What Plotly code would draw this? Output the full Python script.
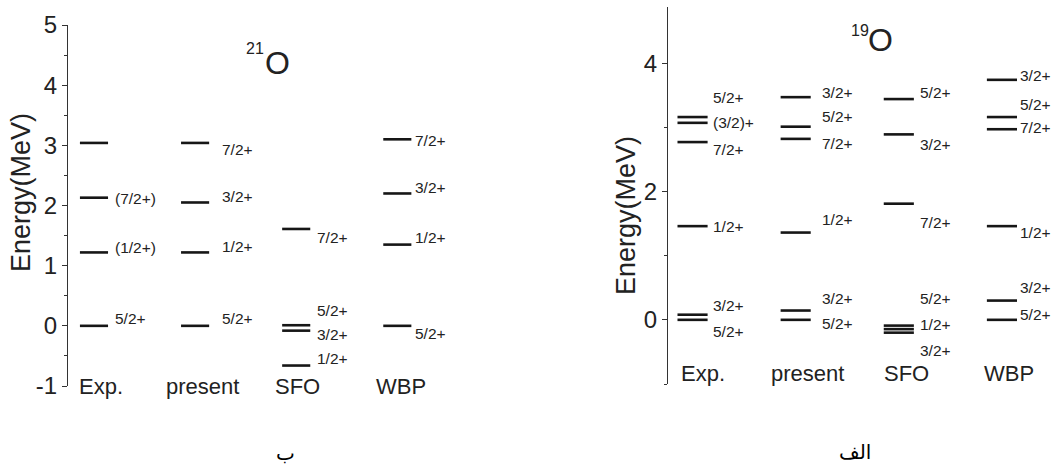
import plotly.graph_objects as go

# ---------------- data ----------------
methods = ["Exp.", "present", "SFO", "WBP"]

# 21O (left panel)
o21_exp = [0.0, 1.22, 2.13, 3.04]
o21_exp_lab = ["5/2+", "(1/2+)", "(7/2+)", ""]
o21_present = [0.0, 1.22, 2.05, 3.04]
o21_present_lab = ["5/2+", "1/2+", "3/2+", "7/2+"]
o21_sfo = [-0.66, -0.08, 0.01, 1.61]
o21_sfo_lab = ["1/2+", "3/2+", "5/2+", "7/2+"]
o21_wbp = [0.0, 1.35, 2.20, 3.10]
o21_wbp_lab = ["5/2+", "1/2+", "3/2+", "7/2+"]

# 19O (right panel)
o19_exp = [0.0, 0.08, 1.46, 2.77, 3.07, 3.16]
o19_exp_lab = ["5/2+", "3/2+", "1/2+", "7/2+", "(3/2)+", "5/2+"]
o19_present = [0.0, 0.145, 1.36, 2.82, 3.01, 3.47]
o19_present_lab = ["5/2+", "3/2+", "1/2+", "7/2+", "5/2+", "3/2+"]
o19_sfo = [-0.20, -0.145, -0.09, 1.81, 2.89, 3.44]
o19_sfo_lab = ["3/2+", "1/2+", "5/2+", "7/2+", "3/2+", "5/2+"]
o19_wbp = [0.0, 0.30, 1.46, 2.97, 3.16, 3.74]
o19_wbp_lab = ["5/2+", "3/2+", "1/2+", "7/2+", "5/2+", "3/2+"]

# label text positions (energy units)
o21_exp_laby = [0.12, 1.30, 2.12, None]
o21_present_laby = [0.12, 1.32, 2.15, 2.93]
o21_sfo_laby = [-0.55, -0.15, 0.25, 1.47]
o21_wbp_laby = [-0.13, 1.47, 2.30, 3.08]

o19_exp_laby = [-0.18, 0.23, 1.45, 2.65, 3.08, 3.46]
o19_present_laby = [-0.06, 0.34, 1.56, 2.75, 3.17, 3.54]
o19_sfo_laby = [-0.48, -0.08, 0.33, 1.52, 2.73, 3.54]
o19_wbp_laby = [0.08, 0.50, 1.36, 2.99, 3.35, 3.80]

# tick labels
left_tickvals = [-1, 0, 1, 2, 3, 4, 5]
left_ticktext = ["-1", "0", "1", "2", "3", "4", "5"]
right_tickvals = [0, 2, 4]
right_ticktext = ["0", "2", "4"]

# ---------------- styling ----------------
W, H = 1053, 474
LINE_COLOR = "#161616"
TEXT_COLOR = "#222222"
REG = "Liberation Sans, Arial, sans-serif"

panels = [
    dict(xa="x", ya="y",
         levels=[o21_exp, o21_present, o21_sfo, o21_wbp],
         labels=[o21_exp_lab, o21_present_lab, o21_sfo_lab, o21_wbp_lab],
         laby=[o21_exp_laby, o21_present_laby, o21_sfo_laby, o21_wbp_laby],
         half=0.139, labdx=[0.19, 0.25, 0.19, 0.16],
         catx=[0.07, 1.07, 2.01, 3.04], caty=-1.0),
    dict(xa="x2", ya="y2",
         levels=[o19_exp, o19_present, o19_sfo, o19_wbp],
         labels=[o19_exp_lab, o19_present_lab, o19_sfo_lab, o19_wbp_lab],
         laby=[o19_exp_laby, o19_present_laby, o19_sfo_laby, o19_wbp_laby],
         half=0.146, labdx=[0.18, 0.24, 0.19, 0.155],
         catx=[0.10, 1.11, 2.07, 3.07], caty=-0.83),
]

fig = go.Figure()
annotations = []

for p in panels:
    for i, (lev, labs, ly) in enumerate(zip(p["levels"], p["labels"], p["laby"])):
        xs, ys = [], []
        for e in lev:
            xs += [i - p["half"], i + p["half"], None]
            ys += [e, e, None]
        fig.add_trace(go.Scatter(x=xs, y=ys, mode="lines", xaxis=p["xa"], yaxis=p["ya"],
                                 line=dict(color=LINE_COLOR, width=2.6),
                                 hoverinfo="skip", showlegend=False))
        for t, yy in zip(labs, ly):
            if not t or yy is None:
                continue
            annotations.append(dict(x=i + p["labdx"][i], y=yy, xref=p["xa"], yref=p["ya"],
                                    text=t, showarrow=False, xanchor="left", yanchor="middle",
                                    font=dict(family=REG, size=15.5, color=TEXT_COLOR)))
    for name, cx in zip(methods, p["catx"]):
        annotations.append(dict(x=cx, y=p["caty"], xref=p["xa"], yref=p["ya"],
                                text=name, showarrow=False, xanchor="center", yanchor="middle",
                                font=dict(family=REG, size=22, color=TEXT_COLOR)))

def px(x):
    return x / W

def py(y):
    return 1 - y / H

# y-axis titles
annotations.append(dict(x=px(21), y=py(193), xref="paper", yref="paper", text="Energy(MeV)",
                        textangle=-90, showarrow=False, xanchor="center", yanchor="middle",
                        font=dict(family=REG, size=27, color=TEXT_COLOR)))
annotations.append(dict(x=px(626), y=py(216), xref="paper", yref="paper", text="Energy(MeV)",
                        textangle=-90, showarrow=False, xanchor="center", yanchor="middle",
                        font=dict(family=REG, size=27, color=TEXT_COLOR)))

# nucleus titles
for mass, mx, my, ox, oy in [("21", 255, 49, 277.5, 62.5), ("19", 859.5, 31, 880, 39.5)]:
    annotations.append(dict(x=px(mx), y=py(my), xref="paper", yref="paper", text=mass,
                            showarrow=False, xanchor="center", yanchor="middle",
                            font=dict(family=REG, size=16, color=TEXT_COLOR)))
    annotations.append(dict(x=px(ox), y=py(oy), xref="paper", yref="paper", text="O",
                            showarrow=False, xanchor="center", yanchor="middle",
                            font=dict(family=REG, size=32, color=TEXT_COLOR)))

# captions
annotations.append(dict(x=px(285), y=py(453), xref="paper", yref="paper", text="ب",
                        showarrow=False, xanchor="center", yanchor="middle",
                        font=dict(family="DejaVu Sans, Noto Sans, sans-serif", size=20, color="#000")))
annotations.append(dict(x=px(855), y=py(452), xref="paper", yref="paper", text="الف",
                        showarrow=False, xanchor="center", yanchor="middle",
                        font=dict(family="DejaVu Sans, Noto Sans, sans-serif", size=20, color="#000")))

yaxis_common = dict(showline=True, linecolor="#333", linewidth=1, ticks="outside",
                    ticklen=5, tickcolor="#333", showgrid=False, zeroline=False,
                    automargin=False,
                    tickfont=dict(family=REG, size=24, color=TEXT_COLOR))

fig.update_layout(
    width=W, height=H, margin=dict(l=0, r=0, t=0, b=0, autoexpand=False),
    paper_bgcolor="white", plot_bgcolor="white", showlegend=False,
    xaxis=dict(domain=[px(68), px(460)], range=[-0.257, 3.62], visible=False, automargin=False),
    yaxis=dict(domain=[py(386), py(25)], range=[-1, 5],
               tickmode="array", tickvals=left_tickvals, ticktext=left_ticktext,
               minor=dict(dtick=0.5, tick0=0, ticks="outside", ticklen=3, tickcolor="#333",
                          showgrid=False),
               **yaxis_common),
    xaxis2=dict(domain=[px(668), px(1050)], range=[-0.238, 3.466], visible=False, anchor="y2",
                automargin=False),
    yaxis2=dict(domain=[py(384), py(7)], range=[-1, 4.875], anchor="x2",
                tickmode="array", tickvals=right_tickvals, ticktext=right_ticktext,
                minor=dict(dtick=1, tick0=0, ticks="outside", ticklen=3, tickcolor="#333",
                           showgrid=False),
                **yaxis_common),
    annotations=annotations,
)

fig.write_html("out.html", config={"displayModeBar": False},
               post_script="document.body.style.margin='0';")
